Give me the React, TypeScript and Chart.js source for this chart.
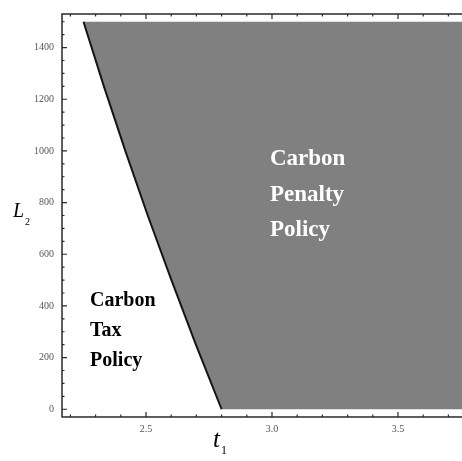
import React, { useEffect, useRef } from "react";
import { Chart, registerables } from "chart.js";

Chart.register(...registerables);

// Boundary between the two policy regions: t1 as a function of L2
const boundaryL2 = [0, 250, 500, 750, 1000, 1250, 1500];
const boundaryT1 = [2.8, 2.698, 2.601, 2.507, 2.418, 2.333, 2.252];
// Penalty region extends to the right end of the t1 range
const regionMaxT1 = 3.8;
const regionMaxL2 = 1500;

// Axis ticks
const xMajorTicks = [2.5, 3.0, 3.5];
const xMinorTicks = [2.2, 2.3, 2.4, 2.6, 2.7, 2.8, 2.9, 3.1, 3.2, 3.3, 3.4, 3.6, 3.7];
const yMajorTicks = [0, 200, 400, 600, 800, 1000, 1200, 1400];
const yMinorTicks = [50, 100, 150, 250, 300, 350, 450, 500, 550, 650, 700, 750, 850, 900, 950, 1050, 1100, 1150, 1250, 1300, 1350, 1450, 1500];

// Region captions
const taxCaption = ["Carbon", "Tax", "Policy"];
const penaltyCaption = ["Carbon", "Penalty", "Policy"];

const X_MIN = 2.1667;
const X_MAX = 3.754;
const Y_MIN = -30;
const Y_MAX = 1530;

const framePlugin = {
  id: "frameAndCaptions",
  afterDatasetsDraw(chart: any) {
    const { ctx, chartArea, scales } = chart;
    const { left, right, top, bottom } = chartArea;
    const x = scales.x;
    const y = scales.y;
    ctx.save();

    // captions
    ctx.textBaseline = "middle";
    ctx.textAlign = "left";
    ctx.fillStyle = "#ffffff";
    ctx.font = "bold 23px 'Liberation Serif', 'Times New Roman', serif";
    const penX = x.getPixelForValue(2.992);
    const penY = [968, 830, 692];
    penaltyCaption.forEach((s, i) => ctx.fillText(s, penX, y.getPixelForValue(penY[i])));

    ctx.fillStyle = "#000000";
    ctx.font = "bold 20px 'Liberation Serif', 'Times New Roman', serif";
    const taxX = x.getPixelForValue(2.278);
    const taxY = [420, 303, 188];
    taxCaption.forEach((s, i) => ctx.fillText(s, taxX, y.getPixelForValue(taxY[i])));

    // frame
    ctx.strokeStyle = "#2a2a2a";
    ctx.lineWidth = 1.5;
    ctx.beginPath();
    ctx.moveTo(right, top);
    ctx.lineTo(left, top);
    ctx.lineTo(left, bottom);
    ctx.lineTo(right, bottom);
    ctx.stroke();

    // inward ticks
    ctx.lineWidth = 1.2;
    ctx.beginPath();
    const yTick = (v: number, len: number) => {
      const py = y.getPixelForValue(v);
      ctx.moveTo(left, py);
      ctx.lineTo(left + len, py);
    };
    yMajorTicks.forEach((v) => yTick(v, 5));
    yMinorTicks.forEach((v) => yTick(v, 2.5));
    const xTick = (v: number, len: number) => {
      const px = x.getPixelForValue(v);
      ctx.moveTo(px, bottom);
      ctx.lineTo(px, bottom - len);
      ctx.moveTo(px, top);
      ctx.lineTo(px, top + len);
    };
    xMajorTicks.forEach((v) => xTick(v, 5));
    xMinorTicks.forEach((v) => xTick(v, 2.5));
    ctx.stroke();
    ctx.restore();

    // axis titles
    ctx.save();
    ctx.fillStyle = "#000000";
    ctx.textAlign = "left";
    ctx.textBaseline = "alphabetic";
    ctx.font = "italic 20px 'Liberation Serif', 'Times New Roman', serif";
    ctx.fillText("L", 13, 217);
    ctx.font = "10px 'Liberation Serif', 'Times New Roman', serif";
    ctx.fillText("2", 25, 224.5);

    ctx.font = "italic 25px 'Liberation Serif', 'Times New Roman', serif";
    ctx.fillText("t", 213, 447);
    ctx.font = "12px 'Liberation Serif', 'Times New Roman', serif";
    ctx.fillText("1", 221, 454);
    ctx.restore();
  },
};

export default function App() {
  const canvasRef = useRef<HTMLCanvasElement | null>(null);

  useEffect(() => {
    const canvas = canvasRef.current;
    if (!canvas) return;

    const boundary = boundaryL2.map((L, i) => ({ x: boundaryT1[i], y: L }));
    const region = [
      ...boundary,
      { x: regionMaxT1, y: regionMaxL2 },
      { x: regionMaxT1, y: 0 },
    ];

    const tickFont = { family: "'Liberation Serif', 'Times New Roman', serif", size: 10 };

    const chart = new Chart(canvas, {
      type: "scatter",
      data: {
        datasets: [
          {
            // boundary line, listed first so it is painted over the region
            label: "Boundary",
            data: boundary,
            showLine: true,
            fill: false,
            borderColor: "#151515",
            borderWidth: 2,
            pointRadius: 0,
            tension: 0,
          },
          {
            label: "Carbon Penalty Policy",
            data: region,
            showLine: true,
            fill: "shape",
            backgroundColor: "#808080",
            borderWidth: 0,
            borderColor: "rgba(0,0,0,0)",
            pointRadius: 0,
            tension: 0,
          },
        ],
      },
      options: {
        animation: false,
        responsive: false,
        maintainAspectRatio: false,
        layout: { padding: { top: 8, right: 0, left: 0, bottom: 0 } },
        plugins: {
          legend: { display: false },
          tooltip: { enabled: false },
        },
        scales: {
          x: {
            type: "linear",
            min: X_MIN,
            max: X_MAX,
            grid: { display: false, drawTicks: false },
            border: { display: false },
            afterBuildTicks: (scale: any) => {
              scale.ticks = xMajorTicks.map((v) => ({ value: v }));
            },
            afterFit: (scale: any) => {
              scale.height = 44;
            },
            ticks: {
              font: tickFont,
              color: "#555555",
              padding: 6,
              maxRotation: 0,
              autoSkip: false,
              callback: (v: any) => Number(v).toFixed(1),
            },
          },
          y: {
            type: "linear",
            min: Y_MIN,
            max: Y_MAX,
            grid: { display: false, drawTicks: false },
            border: { display: false },
            afterBuildTicks: (scale: any) => {
              scale.ticks = yMajorTicks.map((v) => ({ value: v }));
            },
            afterFit: (scale: any) => {
              scale.width = 62;
            },
            ticks: {
              font: tickFont,
              color: "#555555",
              padding: 8,
              autoSkip: false,
              callback: (v: any) => String(v),
            },
          },
        },
      },
      plugins: [framePlugin],
    });

    return () => chart.destroy();
  }, []);

  return (
    <div style={{ position: "absolute", left: 0, top: 0, width: 462, height: 461, background: "#ffffff" }}>
      <canvas ref={canvasRef} width={462} height={461} style={{ display: "block" }} />
    </div>
  );
}
